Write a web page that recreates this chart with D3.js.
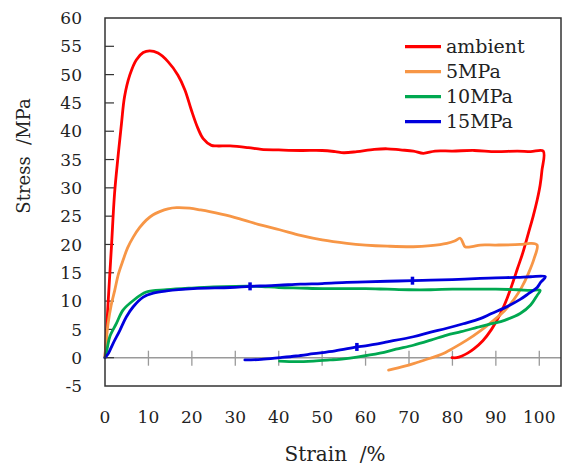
<!DOCTYPE html>
<html>
<head>
<meta charset="utf-8">
<script src="https://cdn.jsdelivr.net/npm/d3@7"></script>
<style>
  html, body { margin: 0; padding: 0; background: #fff; }
  svg { display: block; }
  text { font-family: "DejaVu Serif", serif; fill: #222; }
</style>
</head>
<body>
<script>
// stress-strain curves (strain %, stress MPa)
const ambient = [[0,0],[0.7,9.5],[1.5,19.8],[2.2,29],[3,35.5],[3.8,41.4],[4.5,46.1],[5.7,49.9],[7.2,52.6],[8.8,53.9],[10.3,54.2],[12.2,53.8],[14.5,52.3],[16.8,49.9],[18.4,47.3],[19.9,43.7],[21.4,40.5],[22.6,38.7],[24.5,37.5],[25.7,37.4],[28.8,37.4],[33,37.1],[36,36.8],[40,36.7],[45,36.6],[50,36.6],[53,36.4],[55,36.2],[58,36.4],[62,36.8],[65,36.9],[68,36.7],[71,36.5],[73.3,36.1],[76,36.5],[80,36.5],[85,36.6],[90,36.4],[95,36.5],[98,36.4],[100.9,36.5],[100.6,33],[100.2,30.5],[99.5,27.8],[98.6,25],[97.5,22],[96.2,18.5],[95,15.8],[94,13.5],[92.6,10.5],[91,7.7],[89,5],[87,3],[85,1.6],[83.5,0.8],[82.2,0.3],[81,0],[79.9,0]];
const mpa5 = [[0,0],[0.3,3],[0.7,6],[1.4,9.2],[2.24,11.9],[3.1,14.8],[4.15,17.2],[5.2,19.4],[6.5,21.3],[8,23],[9.5,24.3],[11,25.2],[12.6,25.8],[14.5,26.3],[16.5,26.5],[19.5,26.4],[22,26.1],[24.1,25.8],[28.8,25],[32,24.3],[36,23.4],[40.2,22.6],[45,21.6],[50,20.8],[55.7,20.2],[60,19.9],[65,19.7],[71,19.6],[75,19.8],[78.7,20.2],[80.5,20.6],[81.8,21.1],[82.4,20.3],[82.9,19.6],[84.5,19.6],[86.4,19.9],[90,19.9],[95.6,20],[98,20.2],[99.5,19.9],[98.8,17.5],[97.5,14.9],[96,12.5],[94.1,10.2],[92,8.3],[89.5,6.6],[86.5,4.8],[83.3,3.1],[80,1.6],[77.5,0.6],[74.9,-0.1],[72,-0.8],[69,-1.5],[65.3,-2.2]];
const mpa10 = [[0,0],[0.5,1.6],[1.1,3.7],[2.6,6],[4.15,8.4],[6.5,10.1],[9.5,11.6],[14.2,12],[20,12.3],[25,12.5],[30,12.6],[35,12.6],[40,12.4],[45,12.3],[50,12.2],[55,12.2],[60,12.2],[65,12.1],[70,12],[75,12],[80,12.1],[85,12.1],[90,12.1],[95,12],[98,11.9],[100.2,11.9],[99.5,11],[98,9.3],[95.6,7.8],[92,6.6],[89,6],[86.4,5.5],[82,4.6],[78.7,4],[75,3.1],[71,2.2],[67,1.5],[63.3,0.8],[58,0.1],[55,-0.2],[51.8,-0.4],[48,-0.6],[44,-0.7],[40.2,-0.6]];
const mpa15 = [[0,0],[0.8,0.8],[1.85,2.5],[3.4,4.8],[4.9,7.2],[6.5,9],[8.8,10.7],[11.1,11.4],[14.2,11.8],[20.3,12.2],[28.8,12.4],[33.4,12.6],[37,12.7],[40.2,12.8],[45,13],[50,13.1],[55.7,13.3],[60,13.4],[65,13.5],[70.8,13.6],[75,13.7],[80,13.8],[86.4,14],[90,14.1],[95,14.2],[98,14.3],[101.4,14.3],[100.3,13.3],[99.5,12.4],[97.5,11.3],[95.6,10.3],[92,8.8],[89,7.8],[86.4,6.9],[82.5,6],[78.7,5.2],[75,4.5],[71,3.7],[65,2.8],[60,2.1],[58,1.9],[53,1.2],[48,0.7],[44,0.3],[40.2,0],[36,-0.3],[32.2,-0.4]];
const mpa15Blips = [[33.4,12.6],[58,1.9],[70.8,13.6]];

const seriesNames = ["ambient", "5MPa", "10MPa", "15MPa"];
const seriesColors = ["#ff0000", "#f79646", "#00a850", "#0000dd"];
const xTicks = [0,10,20,30,40,50,60,70,80,90,100];
const yTicks = [-5,0,5,10,15,20,25,30,35,40,45,50,55,60];

const W = 564, H = 465;
const margin = {top: 18, right: 3, bottom: 79, left: 105};

const svg = d3.select("body").append("svg").attr("width", W).attr("height", H);

const x = d3.scaleLinear().domain([0, 105]).range([margin.left, W - margin.right]);
const y = d3.scaleLinear().domain([-5, 60]).range([H - margin.bottom, margin.top]);

// zero line with crossing ticks
svg.append("line")
  .attr("x1", x(0)).attr("x2", x(105)).attr("y1", y(0)).attr("y2", y(0))
  .attr("stroke", "#9a9a9a").attr("stroke-width", 1.5);
svg.append("g").selectAll("line").data(xTicks.filter(d => d > 0)).join("line")
  .attr("x1", d => x(d)).attr("x2", d => x(d))
  .attr("y1", y(0) - 7).attr("y2", y(0) + 8)
  .attr("stroke", "#9a9a9a").attr("stroke-width", 1.3);

// inward y ticks
svg.append("g").selectAll("line").data(yTicks.filter(d => d > -5 && d < 60)).join("line")
  .attr("x1", x(0)).attr("x2", x(0) + 9)
  .attr("y1", d => y(d)).attr("y2", d => y(d))
  .attr("stroke", "#333").attr("stroke-width", 1.2);

// curves
const line = d3.line().x(d => x(d[0])).y(d => y(d[1])).curve(d3.curveCatmullRom.alpha(0.5));
const curves = [ambient, mpa5, mpa10, mpa15];
svg.append("g").selectAll("path").data(curves).join("path")
  .attr("d", line)
  .attr("fill", "none")
  .attr("stroke", (d, i) => seriesColors[i])
  .attr("stroke-width", 2.8)
  .attr("stroke-linejoin", "round")
  .attr("stroke-linecap", "round");

svg.append("g").selectAll("line").data(mpa15Blips).join("line")
  .attr("x1", d => x(d[0])).attr("x2", d => x(d[0]))
  .attr("y1", d => y(d[1]) - 4).attr("y2", d => y(d[1]) + 4)
  .attr("stroke", seriesColors[3]).attr("stroke-width", 3.5);

// frame
svg.append("rect")
  .attr("x", x(0)).attr("y", y(60))
  .attr("width", x(105) - x(0)).attr("height", y(-5) - y(60))
  .attr("fill", "none").attr("stroke", "#333").attr("stroke-width", 1.5);

// tick labels
svg.append("g").selectAll("text").data(xTicks).join("text")
  .attr("x", d => x(d)).attr("y", 423)
  .attr("text-anchor", "middle")
  .style("font-size", "17px")
  .text(d => d);
svg.append("g").selectAll("text").data(yTicks).join("text")
  .attr("x", 82).attr("y", d => y(d))
  .attr("dy", "0.36em")
  .attr("text-anchor", "end")
  .style("font-size", "17px")
  .text(d => d);

// axis titles
svg.append("text")
  .attr("x", 335).attr("y", 461)
  .attr("text-anchor", "middle")
  .style("font-size", "20px").style("white-space", "pre")
  .text("Strain  /%");
svg.append("text")
  .attr("transform", "translate(30,156) rotate(-90)")
  .attr("text-anchor", "middle")
  .style("font-size", "18px").style("white-space", "pre")
  .text("Stress  /MPa");

// legend
const legend = svg.append("g").selectAll("g").data(seriesNames).join("g")
  .attr("transform", (d, i) => `translate(405, ${46.7 + i * 25})`);
legend.append("line")
  .attr("x1", 0).attr("x2", 36)
  .attr("stroke", (d, i) => seriesColors[i]).attr("stroke-width", 3.2);
legend.append("text")
  .attr("x", 41).attr("y", 6.5)
  .style("font-size", "19px")
  .text(d => d);
</script>
</body>
</html>
